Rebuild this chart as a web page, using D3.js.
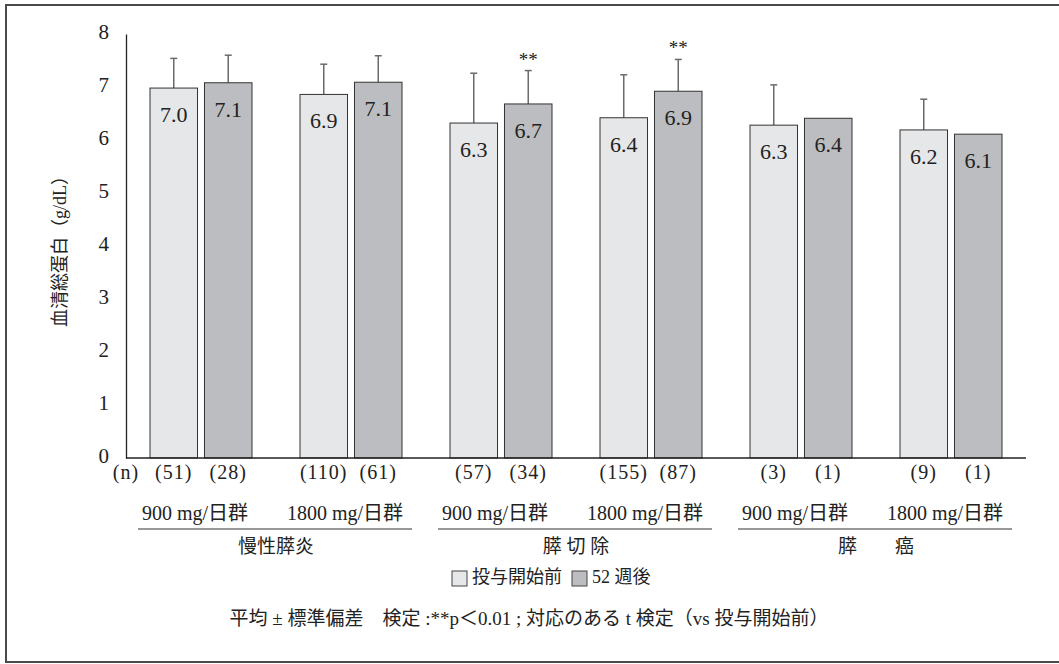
<!DOCTYPE html>
<html>
<head>
<meta charset="utf-8">
<script src="https://cdn.jsdelivr.net/npm/d3@7"></script>
<style>
  body { margin: 0; background: #fff; }
  #chart { width: 1059px; height: 664px; }
  text { font-family: "Liberation Serif", "Noto Sans CJK JP", serif; fill: #222; }
</style>
</head>
<body>
<div id="chart"></div>
<script>
// data
var doses = ["900 mg/日群", "1800 mg/日群", "900 mg/日群", "1800 mg/日群", "900 mg/日群", "1800 mg/日群"];
var diseases = ["慢性膵炎", "膵 切 除", "膵　　癌"];
var seriesNames = ["投与開始前", "52 週後"];
var before = [6.98, 6.86, 6.32, 6.42, 6.28, 6.19];
var after = [7.08, 7.09, 6.68, 6.92, 6.41, 6.11];
var beforeSD = [0.56, 0.57, 0.94, 0.81, 0.76, 0.58];
var afterSD = [0.52, 0.50, 0.63, 0.60, null, null];
var beforeN = [51, 110, 57, 155, 3, 9];
var afterN = [28, 61, 34, 87, 1, 1];
var afterSig = ["", "", "**", "**", "", ""];
var yTicks = [0, 1, 2, 3, 4, 5, 6, 7, 8];

var width = 1059, height = 664;
var colors = ["#e6e7e9", "#bcbdc0"];

var svg = d3.select("#chart").append("svg")
    .attr("width", width)
    .attr("height", height);

// outer frame
svg.append("rect")
    .attr("x", 6).attr("y", 5)
    .attr("width", 1070).attr("height", 657)
    .attr("fill", "none")
    .attr("stroke", "#4a4a4a")
    .attr("stroke-width", 2);

var x0 = d3.scaleBand()
    .domain(d3.range(doses.length))
    .range([126, 1026])
    .paddingInner(0.32)
    .paddingOuter(0.16);

var x1 = d3.scaleBand()
    .domain([0, 1])
    .range([0, x0.bandwidth()])
    .paddingInner(0.128);

var y = d3.scaleLinear().domain([0, 8]).range([458, 34]);

// y axis
var yAxis = svg.append("g")
    .attr("transform", "translate(126,0)")
    .call(d3.axisLeft(y).tickValues(yTicks).tickSize(0).tickSizeOuter(0).tickPadding(17));
yAxis.select(".domain").attr("stroke", "#222").attr("stroke-width", 1.3);
yAxis.selectAll("text")
    .attr("dy", "0.2em")
    .style("font-size", "21px")
    .style("font-family", "Liberation Serif")
    .attr("fill", "#222");

svg.append("text")
    .attr("transform", "translate(62,247) rotate(-90)")
    .attr("text-anchor", "middle")
    .attr("dominant-baseline", "middle")
    .style("font-size", "18px")
    .attr("fill", "#333")
    .text("血清総蛋白（g/dL）");

// rows of bars
var rows = [];
doses.forEach(function(d, i) {
    rows.push({ g: i, s: 0, v: before[i], sd: beforeSD[i], n: beforeN[i], sig: "" });
    rows.push({ g: i, s: 1, v: after[i], sd: afterSD[i], n: afterN[i], sig: afterSig[i] });
});

function bx(d) { return x0(d.g) + x1(d.s); }

// error bars (drawn first so the bar covers the stem)
var err = svg.selectAll(".err")
    .data(rows.filter(function(d) { return d.sd != null; }))
    .enter().append("g").attr("class", "err");
err.append("line")
    .attr("x1", function(d) { return bx(d) + x1.bandwidth() / 2; })
    .attr("x2", function(d) { return bx(d) + x1.bandwidth() / 2; })
    .attr("y1", function(d) { return y(d.v); })
    .attr("y2", function(d) { return y(d.v + d.sd); })
    .attr("stroke", "#6a6a6a").attr("stroke-width", 1.5);
err.append("line")
    .attr("x1", function(d) { return bx(d) + x1.bandwidth() / 2 - 3.5; })
    .attr("x2", function(d) { return bx(d) + x1.bandwidth() / 2 + 3.5; })
    .attr("y1", function(d) { return y(d.v + d.sd); })
    .attr("y2", function(d) { return y(d.v + d.sd); })
    .attr("stroke", "#6a6a6a").attr("stroke-width", 1.5);

svg.selectAll(".bar")
    .data(rows)
    .enter().append("rect")
    .attr("class", "bar")
    .attr("x", bx)
    .attr("y", function(d) { return y(d.v); })
    .attr("width", x1.bandwidth())
    .attr("height", function(d) { return y(0) - y(d.v); })
    .attr("fill", function(d) { return colors[d.s]; })
    .attr("stroke", "#333")
    .attr("stroke-width", 1);

// value labels
svg.selectAll(".val")
    .data(rows)
    .enter().append("text")
    .attr("x", function(d) { return bx(d) + x1.bandwidth() / 2; })
    .attr("y", function(d) { return y(d.v) + 29; })
    .attr("text-anchor", "middle")
    .attr("dominant-baseline", "middle")
    .style("font-size", "22px")
    .text(function(d) { return d3.format(".1f")(d.v); });

// significance marks
svg.selectAll(".sig")
    .data(rows.filter(function(d) { return d.sig; }))
    .enter().append("text")
    .attr("x", function(d) { return bx(d) + x1.bandwidth() / 2; })
    .attr("y", function(d) { return y(d.v + d.sd) - 5; })
    .attr("text-anchor", "middle")
    .style("font-size", "19px")
    .attr("fill", "#444")
    .text(function(d) { return d.sig; });

// baseline
svg.append("line")
    .attr("x1", 126).attr("x2", 1026)
    .attr("y1", y(0)).attr("y2", y(0))
    .attr("stroke", "#222").attr("stroke-width", 1.3);

// n row
svg.append("text")
    .attr("x", 126).attr("y", 474)
    .attr("text-anchor", "middle")
    .attr("dominant-baseline", "middle")
    .style("font-size", "20px")
    .style("letter-spacing", "1px")
    .text("(n)");
svg.selectAll(".nlab")
    .data(rows)
    .enter().append("text")
    .attr("x", function(d) { return bx(d) + x1.bandwidth() / 2; })
    .attr("y", 474)
    .attr("text-anchor", "middle")
    .attr("dominant-baseline", "middle")
    .style("font-size", "20px")
    .style("letter-spacing", "1px")
    .text(function(d) { return "(" + d.n + ")"; });

// dose labels
svg.selectAll(".dose")
    .data(doses)
    .enter().append("text")
    .attr("x", function(d, i) { return x0(i) + x0.bandwidth() / 2 - 6; })
    .attr("y", 515)
    .attr("text-anchor", "middle")
    .attr("dominant-baseline", "middle")
    .style("font-size", "20px")
    .text(function(d) { return d; });

// disease labels with underline
diseases.forEach(function(name, k) {
    var left = x0(2 * k), right = x0(2 * k + 1) + x0.bandwidth();
    var cx = (left + right) / 2;
    svg.append("line")
        .attr("x1", cx - 138).attr("x2", cx + 136)
        .attr("y1", 529).attr("y2", 529)
        .attr("stroke", "#333").attr("stroke-width", 1.2);
    svg.append("text")
        .attr("x", cx).attr("y", 549)
        .attr("text-anchor", "middle")
        .attr("dominant-baseline", "middle")
        .style("font-size", "19px")
        .attr("fill", "#333")
        .text(name);
});

// legend
var legX = [452, 572];
seriesNames.forEach(function(name, i) {
    svg.append("rect")
        .attr("x", legX[i]).attr("y", 571)
        .attr("width", 15).attr("height", 15)
        .attr("fill", colors[i])
        .attr("stroke", "#444").attr("stroke-width", 1);
    svg.append("text")
        .attr("x", legX[i] + 20).attr("y", 579)
        .attr("dominant-baseline", "middle")
        .style("font-size", "18px")
        .attr("fill", "#333")
        .text(name);
});

// footnote
svg.append("text")
    .attr("x", 529).attr("y", 621)
    .attr("text-anchor", "middle")
    .attr("dominant-baseline", "middle")
    .style("font-size", "19px")
    .attr("fill", "#333")
    .text("平均 ± 標準偏差　検定 :**p＜0.01 ; 対応のある t 検定（vs 投与開始前）");
</script>
</body>
</html>
